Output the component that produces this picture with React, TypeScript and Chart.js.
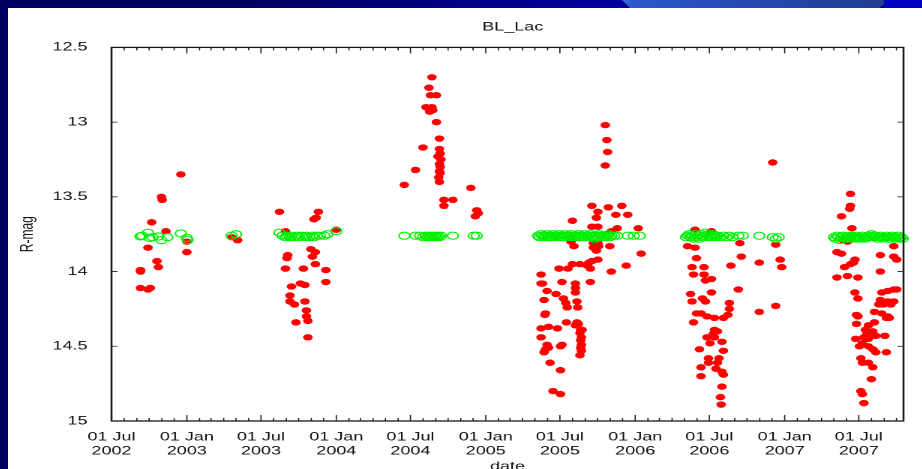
import React, { useEffect, useRef } from "react";
import { Chart, registerables } from "chart.js";

Chart.register(...registerables);

// ---------- data (decimal year, R magnitude) ----------
const chartTitle = "BL_Lac";
const xTitle = "date";
const yTitle = "R-mag";
const monthNames = ["Jan", "Jul"];
const yTickValues = [12.5, 13, 13.5, 14, 14.5, 15];
const tickYears = [2002, 2003, 2004, 2005, 2006, 2007];
const xMin = 2002 + 181 / 365;
const xMax = 2007.795;
const monthStartDays = [0, 31, 59, 90, 120, 151, 181, 212, 243, 273, 304, 334];

const red2002: [number, number][] = [
  [2002.69, 14.0], [2002.69, 13.99], [2002.69, 14.11], [2002.74, 14.12], [2002.756, 14.11],
  [2002.74, 13.84], [2002.765, 13.67], [2002.8, 13.93], [2002.81, 13.97], [2002.83, 13.5],
  [2002.835, 13.52], [2002.86, 13.73], [2002.96, 13.35], [2003.0, 13.8], [2003.0, 13.87],
  [2003.3, 13.77], [2003.34, 13.79],
];
const red2003: [number, number][] = [
  [2003.62, 13.6], [2003.66, 13.73], [2003.675, 13.89], [2003.67, 13.91], [2003.66, 13.98],
  [2003.7, 14.1], [2003.69, 14.16], [2003.69, 14.2], [2003.72, 14.22], [2003.73, 14.34],
  [2003.76, 14.08], [2003.79, 14.09], [2003.78, 13.98], [2003.79, 14.2], [2003.8, 14.26],
  [2003.8, 14.3], [2003.81, 14.33], [2003.81, 14.44], [2003.83, 13.85], [2003.84, 13.9],
  [2003.86, 13.87], [2003.86, 13.95], [2003.85, 13.65], [2003.865, 13.64], [2003.88, 13.6],
  [2003.93, 13.99], [2003.93, 14.07], [2004.0, 13.72],
];
const red2004: [number, number][] = [
  [2004.455, 13.42], [2004.53, 13.32], [2004.58, 13.17], [2004.6, 12.9], [2004.62, 12.77],
  [2004.63, 12.82], [2004.64, 12.7], [2004.64, 12.9], [2004.625, 12.93], [2004.645, 12.92],
  [2004.67, 12.82], [2004.67, 13.0], [2004.69, 13.11], [2004.69, 13.18], [2004.695, 13.21],
  [2004.68, 13.23], [2004.7, 13.25], [2004.69, 13.28], [2004.695, 13.3], [2004.69, 13.33],
  [2004.695, 13.34], [2004.685, 13.37], [2004.69, 13.4], [2004.72, 13.52], [2004.78, 13.52],
  [2004.72, 13.56], [2004.9, 13.44], [2004.93, 13.63], [2004.94, 13.59], [2004.95, 13.61],
];
const red2005: [number, number][] = [
  [2005.8, 13.02], [2005.81, 13.12], [2005.815, 13.2], [2005.8, 13.29],
  [2005.71, 13.56], [2005.75, 13.6], [2005.82, 13.57], [2005.91, 13.56], [2005.87, 13.62],
  [2005.95, 13.62], [2005.74, 13.64], [2005.58, 13.66], [2005.71, 13.7], [2005.75, 13.7],
  [2005.88, 13.71], [2006.02, 13.71], [2005.84, 13.73],
  [2005.57, 13.8], [2005.59, 13.83], [2005.72, 13.81], [2005.75, 13.81], [2005.72, 13.84],
  [2005.755, 13.83], [2005.83, 13.83], [2005.74, 13.86], [2006.04, 13.88],
  [2005.75, 13.92], [2005.71, 13.93], [2005.69, 13.94], [2005.68, 13.96], [2005.58, 13.95],
  [2005.63, 13.95], [2005.94, 13.96], [2005.49, 13.98], [2005.55, 13.98], [2005.7, 13.98],
  [2005.84, 14.0], [2005.37, 14.02], [2005.37, 14.08], [2005.38, 14.08], [2005.51, 14.07],
  [2005.7, 14.07], [2005.6, 14.08], [2005.6, 14.11], [2005.6, 14.14], [2005.41, 14.13],
  [2005.47, 14.15], [2005.39, 14.19], [2005.52, 14.18], [2005.535, 14.21], [2005.545, 14.24],
  [2005.61, 14.2], [2005.615, 14.24], [2005.4, 14.28], [2005.395, 14.29], [2005.54, 14.34],
  [2005.61, 14.34], [2005.62, 14.35], [2005.6, 14.36], [2005.635, 14.39], [2005.645, 14.39],
  [2005.63, 14.41], [2005.64, 14.44], [2005.635, 14.46], [2005.64, 14.49], [2005.635, 14.51],
  [2005.64, 14.53], [2005.63, 14.56], [2005.37, 14.38], [2005.42, 14.37], [2005.48, 14.38],
  [2005.37, 14.44], [2005.41, 14.49], [2005.4, 14.52], [2005.39, 14.54], [2005.42, 14.51],
  [2005.51, 14.49], [2005.5, 14.5], [2005.43, 14.61], [2005.5, 14.66], [2005.45, 14.8],
  [2005.5, 14.82],
];
const red2006: [number, number][] = [
  [2006.4, 13.72], [2006.51, 13.73], [2006.35, 13.83], [2006.4, 13.84], [2006.41, 13.91],
  [2006.38, 13.97], [2006.39, 14.02], [2006.46, 13.97], [2006.46, 14.02], [2006.47, 14.06],
  [2006.51, 14.05], [2006.37, 14.15], [2006.38, 14.2], [2006.45, 14.18], [2006.47, 14.2],
  [2006.51, 14.14], [2006.39, 14.34], [2006.41, 14.28], [2006.44, 14.28], [2006.48, 14.3],
  [2006.53, 14.31], [2006.59, 14.31], [2006.63, 14.21], [2006.63, 14.25], [2006.62, 14.29],
  [2006.53, 14.39], [2006.55, 14.4], [2006.52, 14.42], [2006.48, 14.44], [2006.53, 14.44],
  [2006.58, 14.47], [2006.5, 14.48], [2006.43, 14.52], [2006.59, 14.53], [2006.49, 14.58],
  [2006.56, 14.58], [2006.55, 14.61], [2006.44, 14.64], [2006.49, 14.61], [2006.54, 14.65],
  [2006.58, 14.67], [2006.59, 14.69], [2006.44, 14.7], [2006.58, 14.77], [2006.57, 14.84],
  [2006.575, 14.89], [2006.7, 13.81], [2006.71, 13.9], [2006.64, 13.96], [2006.69, 14.12],
  [2006.83, 13.94], [2006.83, 14.27], [2006.92, 13.27], [2006.94, 13.82], [2006.97, 13.92],
  [2006.98, 13.97], [2006.94, 14.23],
];
const red2007: [number, number][] = [
  [2007.44, 13.48], [2007.44, 13.56], [2007.435, 13.58], [2007.38, 13.63], [2007.45, 13.71],
  [2007.39, 13.79], [2007.42, 13.8], [2007.35, 13.87], [2007.38, 13.88], [2007.47, 13.92],
  [2007.46, 13.94], [2007.4, 13.97], [2007.44, 13.95], [2007.35, 14.04], [2007.42, 14.03],
  [2007.49, 14.04], [2007.47, 14.14], [2007.49, 14.18], [2007.48, 14.29], [2007.49, 14.3],
  [2007.48, 14.35], [2007.475, 14.45], [2007.5, 14.5], [2007.52, 14.48], [2007.51, 14.58],
  [2007.52, 14.61], [2007.54, 14.39], [2007.56, 14.36], [2007.6, 14.34], [2007.55, 14.42],
  [2007.59, 14.4], [2007.53, 14.44], [2007.56, 14.45], [2007.56, 14.5], [2007.59, 14.52],
  [2007.61, 14.54], [2007.56, 14.61], [2007.59, 14.64], [2007.58, 14.72], [2007.51, 14.8],
  [2007.52, 14.82], [2007.53, 14.88], [2007.61, 14.43], [2007.67, 14.43], [2007.68, 14.54],
  [2007.64, 13.89], [2007.64, 14.0], [2007.65, 14.14], [2007.69, 14.13], [2007.73, 14.12],
  [2007.75, 14.12], [2007.64, 14.19], [2007.69, 14.2], [2007.73, 14.2], [2007.63, 14.22],
  [2007.66, 14.22], [2007.71, 14.22], [2007.6, 14.27], [2007.65, 14.28], [2007.69, 14.3],
  [2007.7, 14.31], [2007.68, 14.31], [2007.73, 13.83], [2007.73, 13.9], [2007.75, 13.92],
];

const green2002: [number, number][] = [
  [2002.69, 13.765], [2002.7, 13.76], [2002.74, 13.74], [2002.75, 13.775], [2002.77, 13.77],
  [2002.81, 13.765], [2002.83, 13.79], [2002.87, 13.77], [2002.96, 13.745], [2003.0, 13.775],
  [2003.005, 13.79], [2003.3, 13.76], [2003.33, 13.75],
];
const green2003: [number, number][] = [
  [2003.62, 13.74], [2003.64, 13.76], [2003.66, 13.77], [2003.67, 13.76], [2003.69, 13.77],
  [2003.7, 13.76], [2003.72, 13.77], [2003.74, 13.76], [2003.75, 13.77], [2003.77, 13.76],
  [2003.79, 13.77], [2003.8, 13.76], [2003.82, 13.77], [2003.84, 13.76], [2003.85, 13.77],
  [2003.87, 13.76], [2003.89, 13.76], [2003.92, 13.76], [2003.94, 13.75], [2004.0, 13.73],
];
const green2004: [number, number][] = [
  [2004.455, 13.76], [2004.53, 13.76], [2004.56, 13.76], [2004.58, 13.77], [2004.6, 13.76],
  [2004.61, 13.77], [2004.62, 13.76], [2004.63, 13.77], [2004.64, 13.76], [2004.65, 13.77],
  [2004.66, 13.76], [2004.67, 13.77], [2004.68, 13.76], [2004.69, 13.77], [2004.7, 13.76],
  [2004.78, 13.76], [2004.92, 13.76], [2004.94, 13.76],
];
const green2005: [number, number][] = [
  [2005.35, 13.76], [2005.36, 13.77], [2005.37, 13.75], [2005.38, 13.76], [2005.39, 13.77],
  [2005.4, 13.76], [2005.41, 13.75], [2005.42, 13.77], [2005.43, 13.76], [2005.44, 13.77],
  [2005.45, 13.75], [2005.46, 13.76], [2005.47, 13.77], [2005.48, 13.76], [2005.49, 13.75],
  [2005.5, 13.77], [2005.51, 13.76], [2005.52, 13.77], [2005.53, 13.75], [2005.54, 13.76],
  [2005.55, 13.77], [2005.56, 13.76], [2005.57, 13.75], [2005.58, 13.77], [2005.59, 13.76],
  [2005.6, 13.77], [2005.61, 13.76], [2005.62, 13.75], [2005.63, 13.77], [2005.64, 13.76],
  [2005.65, 13.77], [2005.66, 13.75], [2005.67, 13.76], [2005.68, 13.77], [2005.69, 13.76],
  [2005.7, 13.75], [2005.71, 13.77], [2005.72, 13.76], [2005.73, 13.78], [2005.74, 13.76],
  [2005.75, 13.77], [2005.76, 13.75], [2005.77, 13.76], [2005.78, 13.77], [2005.79, 13.76],
  [2005.8, 13.77], [2005.81, 13.76], [2005.82, 13.75], [2005.83, 13.77], [2005.84, 13.76],
  [2005.86, 13.76], [2005.88, 13.76], [2005.95, 13.76], [2005.99, 13.76], [2006.03, 13.76],
];
const green2006: [number, number][] = [
  [2006.34, 13.77], [2006.35, 13.76], [2006.36, 13.75], [2006.37, 13.77], [2006.38, 13.76],
  [2006.39, 13.78], [2006.4, 13.75], [2006.41, 13.77], [2006.42, 13.76], [2006.43, 13.78],
  [2006.44, 13.75], [2006.45, 13.77], [2006.46, 13.76], [2006.47, 13.74], [2006.48, 13.77],
  [2006.49, 13.75], [2006.5, 13.76], [2006.51, 13.77], [2006.52, 13.75], [2006.53, 13.76],
  [2006.54, 13.77], [2006.55, 13.76], [2006.57, 13.77], [2006.59, 13.76], [2006.61, 13.77],
  [2006.63, 13.76], [2006.65, 13.77], [2006.69, 13.76], [2006.72, 13.76], [2006.83, 13.76],
  [2006.92, 13.77], [2006.94, 13.78], [2006.96, 13.77],
];
const green2007: [number, number][] = [
  [2007.33, 13.77], [2007.34, 13.78], [2007.35, 13.76], [2007.36, 13.77], [2007.37, 13.79],
  [2007.38, 13.77], [2007.39, 13.76], [2007.4, 13.78], [2007.41, 13.77], [2007.42, 13.76],
  [2007.43, 13.78], [2007.44, 13.77], [2007.45, 13.76], [2007.46, 13.78], [2007.47, 13.77],
  [2007.48, 13.76], [2007.49, 13.78], [2007.5, 13.77], [2007.51, 13.78], [2007.52, 13.76],
  [2007.53, 13.77], [2007.54, 13.78], [2007.55, 13.77], [2007.56, 13.76], [2007.57, 13.77],
  [2007.58, 13.75], [2007.59, 13.76], [2007.6, 13.77], [2007.61, 13.76], [2007.62, 13.78],
  [2007.63, 13.77], [2007.64, 13.76], [2007.65, 13.77], [2007.66, 13.78], [2007.67, 13.77],
  [2007.68, 13.76], [2007.69, 13.77], [2007.7, 13.78], [2007.71, 13.77], [2007.72, 13.76],
  [2007.73, 13.77], [2007.74, 13.78], [2007.75, 13.77], [2007.76, 13.76], [2007.77, 13.78],
  [2007.78, 13.77], [2007.79, 13.78],
];

// ---------- layout constants ----------
const FONT = "'Liberation Sans', Arial, Helvetica, sans-serif";
const INTERNAL_W = 610; // drawn narrow, then stretched 1.5x horizontally like the reference
const CANVAS_H = 470;
const CSS_W = 915;

const toPoints = (arr: [number, number][]) => arr.map(([x, y]) => ({ x, y }));

const majorTickValues: number[] = [];
tickYears.forEach((yr) => {
  majorTickValues.push(yr);
  majorTickValues.push(yr + 181 / 365);
});
const xMajorTicks = majorTickValues.filter((v) => v >= xMin - 1e-6 && v <= xMax);

const monthTicks: { v: number; major: boolean }[] = [];
tickYears.forEach((yr) => {
  monthStartDays.forEach((d, m) => {
    const v = yr + d / 365;
    if (v >= xMin - 1e-6 && v <= xMax) monthTicks.push({ v, major: m === 0 || m === 6 });
  });
});

const framePlugin = {
  id: "gnuFrame",
  afterDatasetsDraw(chart: any) {
    const { ctx, chartArea: a, scales } = chart;
    const x = scales.x;
    const y = scales.y;
    ctx.save();
    ctx.strokeStyle = "#1a1a1a";
    ctx.lineWidth = 0.8;
    ctx.beginPath();
    monthTicks.forEach((t) => {
      const px = x.getPixelForValue(t.v);
      const len = t.major ? 6 : 3;
      ctx.moveTo(px, a.bottom);
      ctx.lineTo(px, a.bottom - len);
      ctx.moveTo(px, a.top);
      ctx.lineTo(px, a.top + len);
    });
    yTickValues.forEach((v) => {
      const py = y.getPixelForValue(v);
      ctx.moveTo(a.left, py);
      ctx.lineTo(a.left + 4, py);
      ctx.moveTo(a.right, py);
      ctx.lineTo(a.right - 4, py);
    });
    ctx.stroke();
    ctx.lineWidth = 1.3;
    ctx.strokeRect(a.left, a.top, a.right - a.left, a.bottom - a.top);
    ctx.restore();
  },
};

const titleShiftPlugin = {
  id: "titleShift",
  afterLayout(chart: any) {
    const t = chart.titleBlock;
    if (t) {
      t.left += 38;
      t.right += 38;
    }
  },
};

export default function App() {
  const ref = useRef<HTMLCanvasElement | null>(null);

  useEffect(() => {
    if (!ref.current) return;
    const red = [...red2002, ...red2003, ...red2004, ...red2005, ...red2006, ...red2007];
    const green = [...green2002, ...green2003, ...green2004, ...green2005, ...green2006, ...green2007];
    const chart = new Chart(ref.current, {
      type: "scatter",
      data: {
        datasets: [
          {
            label: "comparison",
            data: toPoints(green),
            pointStyle: "circle",
            pointRadius: 3.6,
            pointBackgroundColor: "rgba(0,0,0,0)",
            pointBorderColor: "#00ee00",
            pointBorderWidth: 1,
            order: 0,
            clip: false as any,
          },
          {
            label: "BL Lac",
            data: toPoints(red),
            pointStyle: "circle",
            pointRadius: 3.2,
            pointBackgroundColor: "#ff0000",
            pointBorderColor: "#ff0000",
            pointBorderWidth: 0,
            order: 1,
            clip: false as any,
          },
        ],
      },
      options: {
        responsive: false,
        animation: false,
        devicePixelRatio: 2,
        layout: { padding: { left: 0, right: 13, top: 0, bottom: 0 } },
        plugins: {
          legend: { display: false },
          tooltip: { enabled: false },
          title: {
            display: true,
            text: chartTitle,
            color: "#111",
            font: { family: FONT, size: 12, weight: "normal", lineHeight: 1.2 },
            padding: { top: 12, bottom: 13 },
          },
        },
        scales: {
          x: {
            type: "linear",
            min: xMin,
            max: xMax,
            grid: { display: false },
            border: { display: false },
            afterBuildTicks: (s: any) => {
              s.ticks = xMajorTicks.map((v) => ({ value: v }));
            },
            afterFit: (s: any) => {
              s.height = CANVAS_H - 413;
            },
            ticks: {
              autoSkip: false,
              maxRotation: 0,
              minRotation: 0,
              padding: 1,
              color: "#111",
              font: { family: FONT, size: 12, lineHeight: 14 / 12 },
              callback: (v: any) => {
                const val = Number(v);
                const yr = Math.floor(val + 1e-6);
                const frac = val - yr;
                const mon = frac < 0.25 ? monthNames[0] : monthNames[1];
                return ["01 " + mon, String(yr)];
              },
            },
            title: {
              display: true,
              text: xTitle,
              color: "#111",
              font: { family: FONT, size: 12, lineHeight: 1.2 },
              padding: { top: 0, bottom: 4 },
            },
          },
          y: {
            type: "linear",
            reverse: true,
            min: 12.5,
            max: 15,
            grid: { display: false },
            border: { display: false },
            afterBuildTicks: (s: any) => {
              s.ticks = yTickValues.map((v) => ({ value: v }));
            },
            afterFit: (s: any) => {
              s.width = 69;
            },
            ticks: {
              padding: 8,
              color: "#111",
              font: { family: FONT, size: 12 },
              callback: (v: any) => String(v),
            },
            title: {
              display: true,
              text: yTitle,
              color: "#111",
              font: { family: FONT, size: 12, lineHeight: 1.2 },
              padding: { top: 6, bottom: 0 },
            },
          },
        },
      } as any,
      plugins: [framePlugin, titleShiftPlugin],
    });
    return () => chart.destroy();
  }, []);

  return (
    <div
      style={{
        position: "fixed",
        left: 0,
        top: 0,
        width: "100vw",
        height: "100vh",
        overflow: "hidden",
        background: "#000060",
      }}
    >
      <div
        style={{
          position: "absolute",
          left: 0,
          top: 0,
          width: 625,
          height: 8,
          background: "linear-gradient(to right, #000060 0%, #000060 40%, #0000a0 100%)",
        }}
      />
      <div
        style={{
          position: "absolute",
          left: 622,
          top: 0,
          width: 268,
          height: 8,
          background: "linear-gradient(to right, #3a6ee8 0%, #2b57cc 4%, #2448b0 50%, #1f3d8f 100%)",
          clipPath: "polygon(0 0, 100% 0, 96% 100%, 3% 100%)",
        }}
      />
      <div
        style={{
          position: "absolute",
          left: 884,
          top: 0,
          width: 40,
          height: 8,
          background: "#0000c0",
        }}
      />
      <div
        style={{
          position: "absolute",
          left: 8,
          top: 8,
          width: 920,
          height: 480,
          background: "#ffffff",
        }}
      >
        <canvas
          ref={ref}
          width={INTERNAL_W}
          height={CANVAS_H}
          style={{ display: "block", width: CSS_W + "px", height: CANVAS_H + "px" }}
        />
      </div>
    </div>
  );
}
